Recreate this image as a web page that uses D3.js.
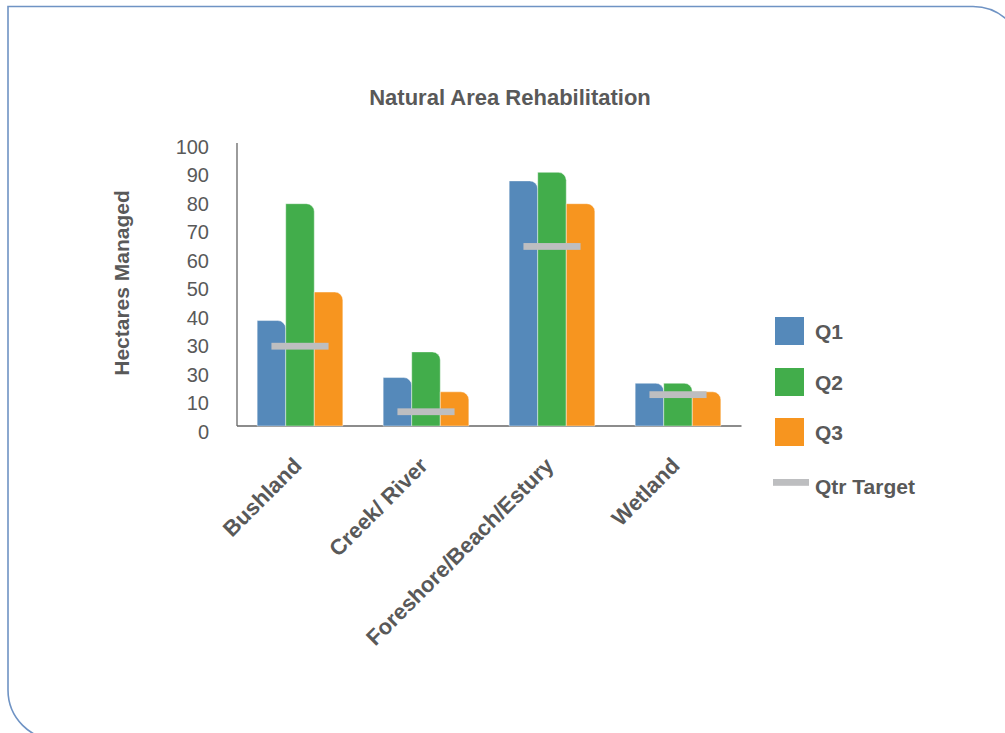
<!DOCTYPE html>
<html>
<head>
<meta charset="utf-8">
<script src="https://cdn.jsdelivr.net/npm/d3@7"></script>
<style>
  html, body { margin: 0; padding: 0; background: #fff; }
  svg { display: block; }
  text { font-family: "Liberation Sans", Arial, sans-serif; fill: #595959; }
</style>
</head>
<body>
<svg id="chart" width="1005" height="733"></svg>
<script>
// Hectares managed per natural area type, by quarter
const categories = ["Bushland", "Creek/ River", "Foreshore/Beach/Estury", "Wetland"];
const seriesNames = ["Q1", "Q2", "Q3"];
const q1 = [37, 17, 86, 15];
const q2 = [78, 26, 89, 15];
const q3 = [47, 12, 78, 12];
const qtrTarget = [28, 5, 63, 11];
const tickValues = [0, 10, 20, 30, 40, 50, 60, 70, 80, 90, 100];
const tickLabels = ["0", "10", "30", "30", "40", "50", "60", "70", "80", "90", "100"];

const seriesValues = [q1, q2, q3];
const colors = { Q1: "#5589BA", Q2: "#42AD4B", Q3: "#F7951F", target: "#BDBEC0" };

const svg = d3.select("#chart");

// Panel frame: square top-left / bottom-right, rounded top-right / bottom-left
const fx0 = 8, fy0 = 6.5, fx1 = 1023, fy1 = 740, fr = 50;
svg.append("path")
  .attr("d", `M${fx0},${fy0} H${fx1 - fr} A${fr},${fr} 0 0 1 ${fx1},${fy0 + fr} V${fy1} H${fx0 + fr} A${fr},${fr} 0 0 1 ${fx0},${fy1 - fr} Z`)
  .attr("fill", "none")
  .attr("stroke", "#6F93C4")
  .attr("stroke-width", 1.6);

const x0 = d3.scaleBand().domain(categories).range([237, 741]).paddingInner(0.32).paddingOuter(0.16);
const x1 = d3.scaleBand().domain(seriesNames).range([0, x0.bandwidth()]);
const y = d3.scaleLinear().domain([0, 100]).range([426, 141]);

// Title
svg.append("text")
  .attr("x", 510).attr("y", 105)
  .attr("text-anchor", "middle")
  .style("font-size", "22px").style("font-weight", "bold")
  .text("Natural Area Rehabilitation");

// Y axis title
svg.append("text")
  .attr("transform", "translate(128.5,283) rotate(-90)")
  .attr("text-anchor", "middle")
  .style("font-size", "21px").style("font-weight", "bold")
  .text("Hectares Managed");

// Y axis (line + labels only)
const yAxis = d3.axisLeft(y)
  .tickValues(tickValues)
  .tickFormat((d, i) => tickLabels[i])
  .tickSize(0)
  .tickPadding(28);
const gy = svg.append("g").attr("transform", "translate(237,0)").call(yAxis);
gy.select(".domain").attr("stroke", "#666").attr("stroke-width", 1.3).attr("d", `M0,${y(0)}V${y(99.3)}`);
gy.selectAll(".tick text")
  .attr("dy", "0.32em")
  .attr("y", 5.7)
  .style("font-size", "20px")
  .style("font-family", '"Liberation Sans", Arial, sans-serif')
  .attr("fill", "#595959");

// X axis baseline + rotated category labels
const xAxis = d3.axisBottom(x0).tickSize(0).tickPadding(0);
const gx = svg.append("g").attr("transform", `translate(0,${y(0)})`).call(xAxis);
gx.select(".domain").attr("stroke", "#666").attr("stroke-width", 1.3).attr("d", "M237,0H741.5");
gx.selectAll(".tick text")
  .attr("text-anchor", "end")
  .attr("dy", null)
  .attr("y", 0)
  .attr("transform", "translate(3,41) rotate(-45)")
  .style("font-size", "22px")
  .style("font-weight", "bold")
  .style("font-family", '"Liberation Sans", Arial, sans-serif')
  .attr("fill", "#595959");

// Bars with rounded top-right corner
function barPath(x, w, top, bottom) {
  const r = Math.min(8, w / 2, bottom - top);
  return `M${x},${bottom} V${top} H${x + w - r} A${r},${r} 0 0 1 ${x + w},${top + r} V${bottom} Z`;
}

const groups = svg.append("g").selectAll("g")
  .data(categories)
  .join("g")
  .attr("transform", d => `translate(${x0(d)},0)`);

groups.selectAll("path")
  .data((d, i) => seriesNames.map((s, k) => ({ s, v: seriesValues[k][i] })))
  .join("path")
  .attr("d", d => barPath(x1(d.s), x1.bandwidth(), y(d.v), y(0)))
  .attr("fill", d => colors[d.s])
  .attr("stroke", "#ffffff")
  .attr("stroke-opacity", 0.55)
  .attr("stroke-width", 0.8);

// Quarterly target markers
svg.append("g").selectAll("rect")
  .data(categories)
  .join("rect")
  .attr("x", d => x0(d) + x0.bandwidth() / 2 - x1.bandwidth())
  .attr("width", x1.bandwidth() * 2)
  .attr("y", (d, i) => y(qtrTarget[i]) - 3.4)
  .attr("height", 6.8)
  .attr("fill", colors.target);

// Legend
const legend = svg.append("g");
const legendY = [317, 368, 418];
seriesNames.forEach((s, k) => {
  legend.append("rect")
    .attr("x", 775).attr("y", legendY[k])
    .attr("width", 29).attr("height", 28)
    .attr("fill", colors[s]);
  legend.append("text")
    .attr("x", 815).attr("y", legendY[k] + 22)
    .style("font-size", "21px").style("font-weight", "bold")
    .text(s);
});
legend.append("rect")
  .attr("x", 773).attr("y", 479)
  .attr("width", 36).attr("height", 6.8)
  .attr("fill", colors.target);
legend.append("text")
  .attr("x", 815).attr("y", 494)
  .style("font-size", "21px").style("font-weight", "bold")
  .text("Qtr Target");
</script>
</body>
</html>
